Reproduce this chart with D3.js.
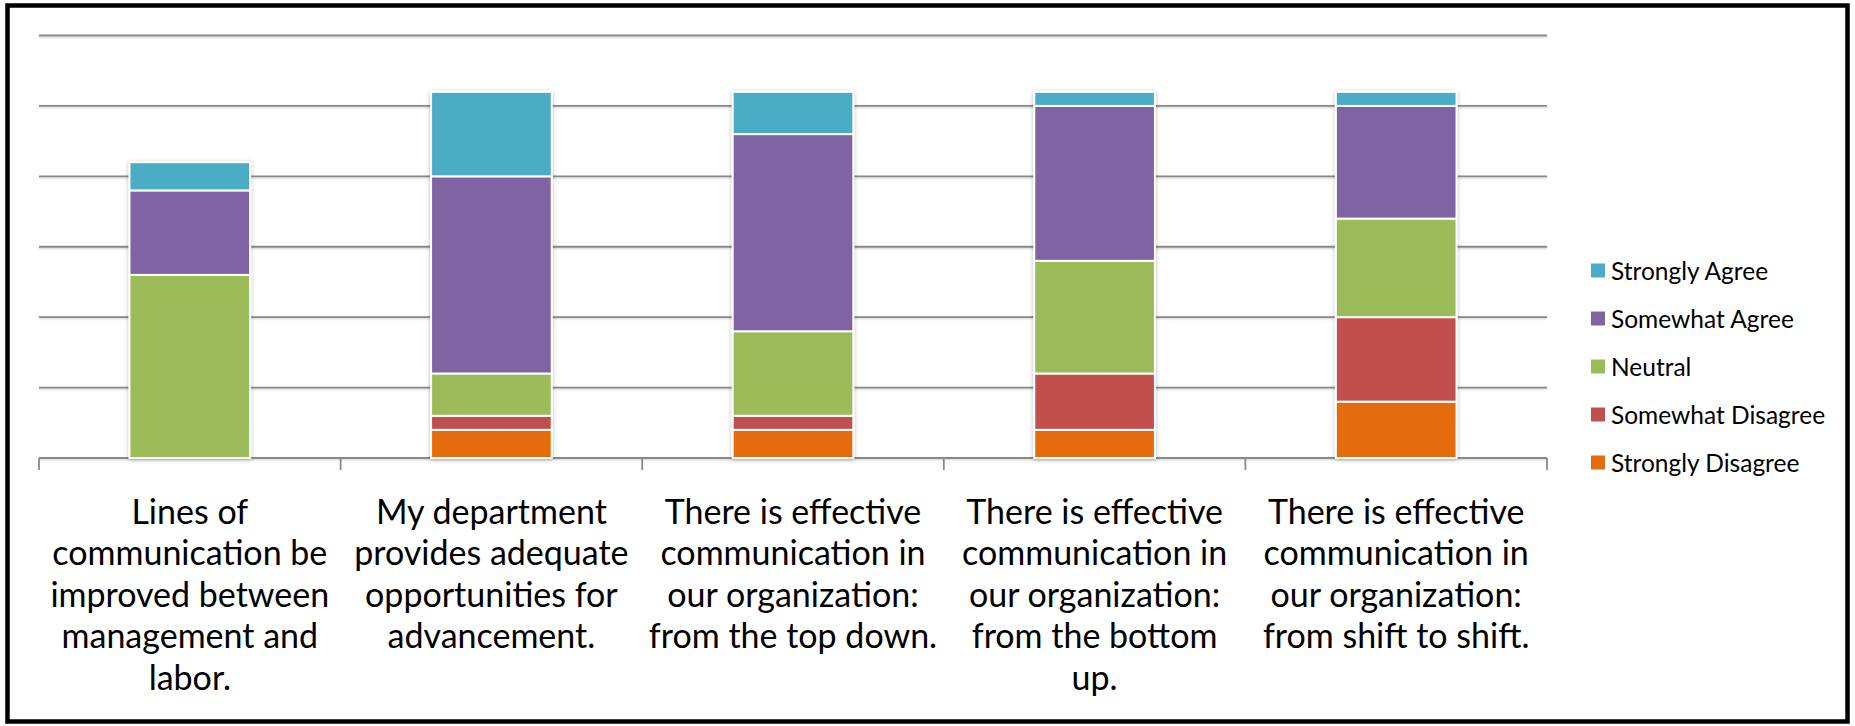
<!DOCTYPE html>
<html>
<head>
<meta charset="utf-8">
<script src="https://cdn.jsdelivr.net/npm/d3@7"></script>
<style>
  html, body { margin: 0; padding: 0; background: #fff; }
  svg { display: block; }
  text { font-family: Lato, "Open Sans", sans-serif; fill: #000; }
</style>
</head>
<body>
<svg id="chart" width="1855" height="726"></svg>
<script>
// ---- data ----
const categories = [
  ["Lines of", "communication be", "improved between", "management and", "labor."],
  ["My department", "provides adequate", "opportunities for", "advancement."],
  ["There is effective", "communication in", "our organization:", "from the top down."],
  ["There is effective", "communication in", "our organization:", "from the bottom", "up."],
  ["There is effective", "communication in", "our organization:", "from shift to shift."]
];
const seriesNames = ["Strongly Disagree", "Somewhat Disagree", "Neutral", "Somewhat Agree", "Strongly Agree"];
const stronglyDisagree = [0, 2, 2, 2, 4];
const somewhatDisagree = [0, 1, 1, 4, 6];
const neutral          = [13, 3, 6, 8, 7];
const somewhatAgree    = [6, 14, 14, 11, 8];
const stronglyAgree    = [2, 6, 3, 1, 1];
const seriesColors = ["#E46C0A", "#C0504D", "#9BBB59", "#8064A2", "#4BACC6"];
const yTicks = [0, 5, 10, 15, 20, 25, 30];

// ---- layout ----
const svg = d3.select("#chart");
const plotLeft = 39, plotRight = 1547, plotTop = 35.5, plotBottom = 458;

const rows = categories.map((c, i) => ({
  idx: i,
  "Strongly Disagree": stronglyDisagree[i],
  "Somewhat Disagree": somewhatDisagree[i],
  "Neutral": neutral[i],
  "Somewhat Agree": somewhatAgree[i],
  "Strongly Agree": stronglyAgree[i]
}));

const x = d3.scaleBand().domain(d3.range(categories.length))
  .range([plotLeft, plotRight]).paddingInner(0.6).paddingOuter(0.3);
const y = d3.scaleLinear().domain([0, 30]).range([plotBottom, plotTop]);
const color = d3.scaleOrdinal().domain(seriesNames).range(seriesColors);

const defs = svg.append("defs");
const f = defs.append("filter").attr("id", "shadow").attr("x", "-20%").attr("y", "-20%").attr("width", "140%").attr("height", "140%");
f.append("feDropShadow").attr("dx", 0).attr("dy", 1).attr("stdDeviation", 2).attr("flood-color", "#000").attr("flood-opacity", 0.28);
const gf = defs.append("filter").attr("id", "gshadow").attr("x", "-5%").attr("y", "-200%").attr("width", "110%").attr("height", "500%");
gf.append("feDropShadow").attr("dx", 0).attr("dy", 1).attr("stdDeviation", 0.8).attr("flood-color", "#000").attr("flood-opacity", 0.2);

// gridlines
svg.append("g").attr("filter", "url(#gshadow)")
  .selectAll("line").data(yTicks).join("line")
  .attr("x1", plotLeft).attr("x2", plotRight)
  .attr("y1", d => y(d)).attr("y2", d => y(d))
  .attr("stroke", "#898989").attr("stroke-width", 1.8);

// category boundary ticks
const step = x.step();
svg.append("g").selectAll("line").data(d3.range(categories.length + 1)).join("line")
  .attr("x1", i => plotLeft + i * step).attr("x2", i => plotLeft + i * step)
  .attr("y1", plotBottom).attr("y2", plotBottom + 12)
  .attr("stroke", "#898989").attr("stroke-width", 1.8);

// stacked bars
const stack = d3.stack().keys(seriesNames)(rows);
svg.append("g").attr("filter", "url(#shadow)")
  .selectAll("g").data(stack).join("g")
  .attr("fill", d => color(d.key))
  .selectAll("rect").data(d => d.filter(s => s[1] - s[0] > 0)).join("rect")
  .attr("x", d => x(d.data.idx))
  .attr("width", x.bandwidth())
  .attr("y", d => y(d[1]))
  .attr("height", d => y(d[0]) - y(d[1]))
  .attr("stroke", "#fff").attr("stroke-width", 2);

// category labels
const lab = svg.append("g").selectAll("g").data(categories).join("g")
  .attr("transform", (d, i) => `translate(${x(i) + x.bandwidth() / 2},0)`);
lab.selectAll("text").data(d => d).join("text")
  .attr("x", 0).attr("y", (d, j) => 524 + j * 41.4)
  .attr("text-anchor", "middle")
  .style("font-size", "34px")
  .text(d => d);

// legend
const legendSeries = seriesNames.slice().reverse();
const lg = svg.append("g").selectAll("g").data(legendSeries).join("g")
  .attr("transform", (d, i) => `translate(1591,${270 + i * 48})`);
lg.append("rect").attr("x", 0).attr("y", -6.5).attr("width", 14).attr("height", 14)
  .attr("fill", d => color(d));
lg.append("text").attr("transform", `translate(20,9.5)`)
  .style("font-size", "24.5px").text(d => d);

// border
svg.append("rect").attr("x", 7.5).attr("y", 5.5).attr("width", 1840).attr("height", 716)
  .attr("fill", "none").attr("stroke", "#000").attr("stroke-width", 4.5);
</script>
</body>
</html>
